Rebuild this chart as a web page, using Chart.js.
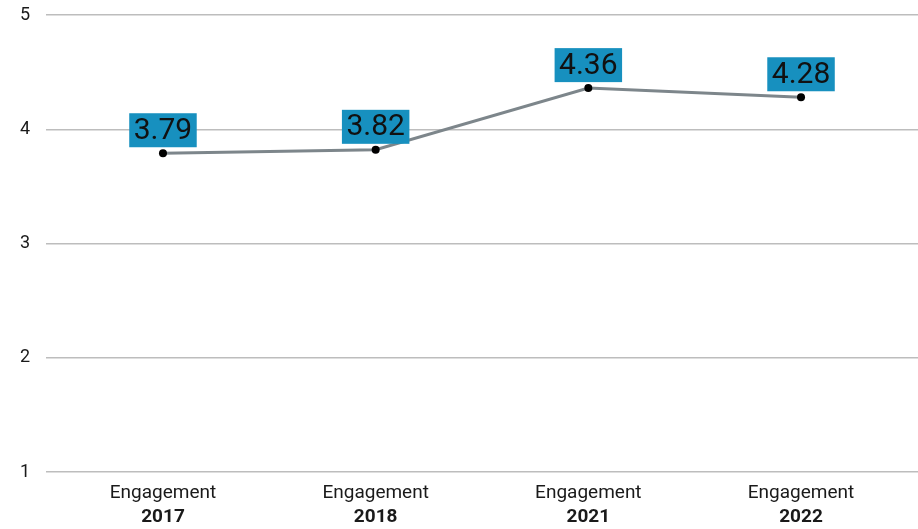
<!DOCTYPE html>
<html>
<head>
<meta charset="utf-8">
<script src="https://cdn.jsdelivr.net/npm/chart.js@4"></script>
<style>
  html, body { margin: 0; padding: 0; background: #ffffff; }
  #wrap { width: 918px; height: 529px; }
</style>
</head>
<body>
<div id="wrap"><canvas id="chart"></canvas></div>
<script>
/* chart data */
var categories = ['Engagement', 'Engagement', 'Engagement', 'Engagement'];
var years      = ['2017', '2018', '2021', '2022'];
var scores     = [3.79, 3.82, 4.36, 4.28];
var yTicks     = [1, 2, 3, 4, 5];

var FONT = "Roboto, 'Noto Sans', sans-serif";

function indexTicks(axis) {
    axis.ticks = years.map(function (y, i) { return { value: i }; });
}

function fitX(h) {
    return function (axis) {
        axis.height = h;
        axis.paddingLeft = 0;
        axis.paddingRight = 0;
    };
}

/* value labels on coloured boxes above each point */
var boxLabels = {
    id: 'boxLabels',
    afterDatasetsDraw: function (chart) {
        var ctx = chart.ctx;
        var meta = chart.getDatasetMeta(0);
        ctx.save();
        ctx.font = '30px ' + FONT;
        ctx.textAlign = 'center';
        ctx.textBaseline = 'middle';
        meta.data.forEach(function (pt, i) {
            var txt = scores[i].toFixed(2);
            var w = ctx.measureText(txt).width + 9;
            var h = 34;
            var bottom = pt.y - 6;
            ctx.fillStyle = '#1790bf';
            ctx.fillRect(pt.x - w / 2, bottom - h, w, h);
            ctx.fillStyle = '#111111';
            ctx.fillText(txt, pt.x, bottom - h / 2 + 1);
        });
        ctx.restore();
    }
};

new Chart(document.getElementById('chart').getContext('2d'), {
    type: 'line',
    data: {
        datasets: [{
            data: scores.map(function (v, i) { return { x: i, y: v }; }),
            borderColor: '#7d868b',
            borderWidth: 3,
            pointRadius: 4,
            pointBackgroundColor: '#000000',
            pointBorderWidth: 0,
            tension: 0,
            xAxisID: 'x',
            yAxisID: 'y'
        }]
    },
    options: {
        responsive: true,
        maintainAspectRatio: false,
        animation: false,
        layout: { autoPadding: false, padding: { top: 15, right: 0, left: 0, bottom: 0 } },
        plugins: {
            legend: { display: false },
            tooltip: { enabled: false }
        },
        scales: {
            x: {
                type: 'linear',
                position: 'bottom',
                min: -0.55,
                max: 3.55,
                afterBuildTicks: indexTicks,
                afterFit: fitX(34),
                grid: { display: false, drawTicks: false },
                border: { display: false },
                ticks: {
                    color: '#1a1a1a',
                    font: { family: FONT, size: 19 },
                    padding: 10,
                    maxRotation: 0,
                    autoSkip: false,
                    callback: function (v) { return categories[v]; }
                }
            },
            x2: {
                type: 'linear',
                position: 'bottom',
                min: -0.55,
                max: 3.55,
                afterBuildTicks: indexTicks,
                afterFit: fitX(23),
                grid: { display: false, drawTicks: false },
                border: { display: false },
                ticks: {
                    color: '#1a1a1a',
                    font: { family: FONT, size: 19, weight: 'bold' },
                    padding: 0,
                    maxRotation: 0,
                    autoSkip: false,
                    callback: function (v) { return years[v]; }
                }
            },
            y: {
                min: 1,
                max: 5,
                afterBuildTicks: function (axis) {
                    axis.ticks = yTicks.map(function (v) { return { value: v }; });
                },
                afterFit: function (axis) {
                    axis.width = 46;
                    axis.paddingTop = 0;
                    axis.paddingBottom = 0;
                },
                grid: { color: '#bdbdbd', lineWidth: 1.5, drawTicks: false },
                border: { display: false },
                ticks: {
                    color: '#1a1a1a',
                    font: { family: FONT, size: 18 },
                    padding: 16
                }
            }
        }
    },
    plugins: [boxLabels]
});
</script>
</body>
</html>
